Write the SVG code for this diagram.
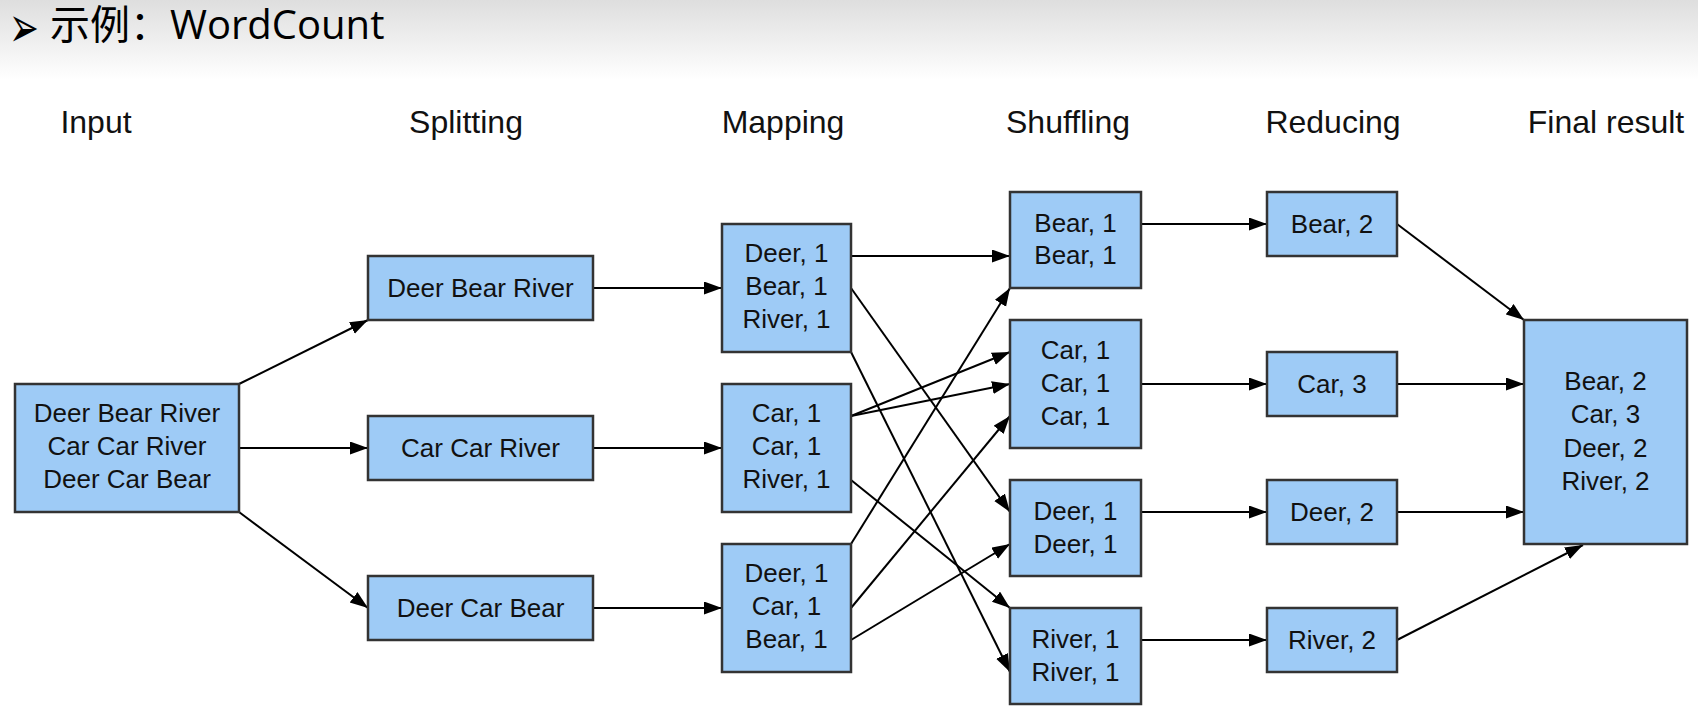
<svg xmlns="http://www.w3.org/2000/svg" width="1698" height="718" viewBox="0 0 1698 718">
  <defs>
    <linearGradient id="topShade" x1="0" y1="0" x2="0" y2="1">
      <stop offset="0" stop-color="#dedede"/>
      <stop offset="1" stop-color="#ffffff"/>
    </linearGradient>
    <marker id="arrow" markerUnits="userSpaceOnUse" markerWidth="20" markerHeight="14" refX="18" refY="6.5" orient="auto">
      <path d="M0,0 L18,6.5 L0,13 z" fill="#000"/>
    </marker>
    <style>
      .box { fill: #9ecbf6; stroke: #333; stroke-width: 2.5; }
      .lbl { font-family: "Liberation Sans", Arial, sans-serif; font-size: 26px; fill: #111; text-anchor: middle; }
      .hdr { font-family: "Liberation Sans", Arial, sans-serif; font-size: 32px; fill: #111; text-anchor: middle; }
      .edge { stroke: #000; stroke-width: 2; fill: none; marker-end: url(#arrow); }
    </style>
  </defs>

  <!-- page background and title band -->
  <rect x="0" y="0" width="1698" height="718" fill="#fff"/>
  <rect x="0" y="0" width="1698" height="80" fill="url(#topShade)"/>
  <text transform="translate(9,47) scale(1.05,1.7)" font-family="DejaVu Sans, sans-serif" font-size="34" fill="#000">➢</text>
  <text x="50" y="39" font-family="'Open Sans', 'Noto Sans CJK SC', sans-serif" font-size="40" fill="#000">示例：WordCount</text>

  <!-- column headers -->
  <g id="headers">
    <text class="hdr" x="96" y="133">Input</text>
    <text class="hdr" x="466" y="133">Splitting</text>
    <text class="hdr" x="783" y="133">Mapping</text>
    <text class="hdr" x="1068" y="133">Shuffling</text>
    <text class="hdr" x="1333" y="133">Reducing</text>
    <text class="hdr" x="1606" y="133">Final result</text>
  </g>

  <!-- connectors -->
  <g id="connectors">
    <!-- input to splitting -->
    <line class="edge" x1="239" y1="384" x2="368" y2="320"/>
    <line class="edge" x1="239" y1="448" x2="368" y2="448"/>
    <line class="edge" x1="239" y1="512" x2="368" y2="608"/>
    <!-- splitting to mapping -->
    <line class="edge" x1="593" y1="288" x2="722" y2="288"/>
    <line class="edge" x1="593" y1="448" x2="722" y2="448"/>
    <line class="edge" x1="593" y1="608" x2="722" y2="608"/>
    <!-- mapping to shuffling -->
    <line class="edge" x1="851" y1="256" x2="1010" y2="256"/>
    <line class="edge" x1="851" y1="288" x2="1010" y2="512"/>
    <line class="edge" x1="851" y1="352" x2="1010" y2="672"/>
    <line class="edge" x1="851" y1="416" x2="1010" y2="352"/>
    <line class="edge" x1="851" y1="416" x2="1010" y2="384"/>
    <line class="edge" x1="851" y1="480" x2="1010" y2="608"/>
    <line class="edge" x1="851" y1="544" x2="1010" y2="288"/>
    <line class="edge" x1="851" y1="608" x2="1010" y2="416"/>
    <line class="edge" x1="851" y1="640" x2="1010" y2="544"/>
    <!-- shuffling to reducing -->
    <line class="edge" x1="1141" y1="224" x2="1267" y2="224"/>
    <line class="edge" x1="1141" y1="384" x2="1267" y2="384"/>
    <line class="edge" x1="1141" y1="512" x2="1267" y2="512"/>
    <line class="edge" x1="1141" y1="640" x2="1267" y2="640"/>
    <!-- reducing to final result -->
    <line class="edge" x1="1397" y1="224" x2="1524" y2="320"/>
    <line class="edge" x1="1397" y1="384" x2="1524" y2="384"/>
    <line class="edge" x1="1397" y1="512" x2="1524" y2="512"/>
    <line class="edge" x1="1397" y1="640" x2="1583" y2="545"/>
  </g>

  <!-- input -->
  <g id="input">
    <rect class="box" x="15" y="384" width="224" height="128"/>
    <text class="lbl" x="127" y="422">Deer Bear River</text>
    <text class="lbl" x="127" y="455">Car Car River</text>
    <text class="lbl" x="127" y="488">Deer Car Bear</text>
  </g>

  <!-- splitting -->
  <g id="split-1">
    <rect class="box" x="368" y="256" width="225" height="64"/>
    <text class="lbl" x="480.5" y="297">Deer Bear River</text>
  </g>
  <g id="split-2">
    <rect class="box" x="368" y="416" width="225" height="64"/>
    <text class="lbl" x="480.5" y="457">Car Car River</text>
  </g>
  <g id="split-3">
    <rect class="box" x="368" y="576" width="225" height="64"/>
    <text class="lbl" x="480.5" y="617">Deer Car Bear</text>
  </g>

  <!-- mapping -->
  <g id="map-1">
    <rect class="box" x="722" y="224" width="129" height="128"/>
    <text class="lbl" x="786.5" y="262">Deer, 1</text>
    <text class="lbl" x="786.5" y="295">Bear, 1</text>
    <text class="lbl" x="786.5" y="328">River, 1</text>
  </g>
  <g id="map-2">
    <rect class="box" x="722" y="384" width="129" height="128"/>
    <text class="lbl" x="786.5" y="422">Car, 1</text>
    <text class="lbl" x="786.5" y="455">Car, 1</text>
    <text class="lbl" x="786.5" y="488">River, 1</text>
  </g>
  <g id="map-3">
    <rect class="box" x="722" y="544" width="129" height="128"/>
    <text class="lbl" x="786.5" y="582">Deer, 1</text>
    <text class="lbl" x="786.5" y="615">Car, 1</text>
    <text class="lbl" x="786.5" y="648">Bear, 1</text>
  </g>

  <!-- shuffling -->
  <g id="shuffle-bear">
    <rect class="box" x="1010" y="192" width="131" height="96"/>
    <text class="lbl" x="1075.5" y="232">Bear, 1</text>
    <text class="lbl" x="1075.5" y="264">Bear, 1</text>
  </g>
  <g id="shuffle-car">
    <rect class="box" x="1010" y="320" width="131" height="128"/>
    <text class="lbl" x="1075.5" y="359">Car, 1</text>
    <text class="lbl" x="1075.5" y="392">Car, 1</text>
    <text class="lbl" x="1075.5" y="425">Car, 1</text>
  </g>
  <g id="shuffle-deer">
    <rect class="box" x="1010" y="480" width="131" height="96"/>
    <text class="lbl" x="1075.5" y="520">Deer, 1</text>
    <text class="lbl" x="1075.5" y="553">Deer, 1</text>
  </g>
  <g id="shuffle-river">
    <rect class="box" x="1010" y="608" width="131" height="96"/>
    <text class="lbl" x="1075.5" y="648">River, 1</text>
    <text class="lbl" x="1075.5" y="681">River, 1</text>
  </g>

  <!-- reducing -->
  <g id="reduce-bear">
    <rect class="box" x="1267" y="192" width="130" height="64"/>
    <text class="lbl" x="1332" y="233">Bear, 2</text>
  </g>
  <g id="reduce-car">
    <rect class="box" x="1267" y="352" width="130" height="64"/>
    <text class="lbl" x="1332" y="393">Car, 3</text>
  </g>
  <g id="reduce-deer">
    <rect class="box" x="1267" y="480" width="130" height="64"/>
    <text class="lbl" x="1332" y="521">Deer, 2</text>
  </g>
  <g id="reduce-river">
    <rect class="box" x="1267" y="608" width="130" height="64"/>
    <text class="lbl" x="1332" y="649">River, 2</text>
  </g>

  <!-- final result -->
  <g id="final">
    <rect class="box" x="1524" y="320" width="163" height="224"/>
    <text class="lbl" x="1605.5" y="390">Bear, 2</text>
    <text class="lbl" x="1605.5" y="423">Car, 3</text>
    <text class="lbl" x="1605.5" y="457">Deer, 2</text>
    <text class="lbl" x="1605.5" y="490">River, 2</text>
  </g>
</svg>
